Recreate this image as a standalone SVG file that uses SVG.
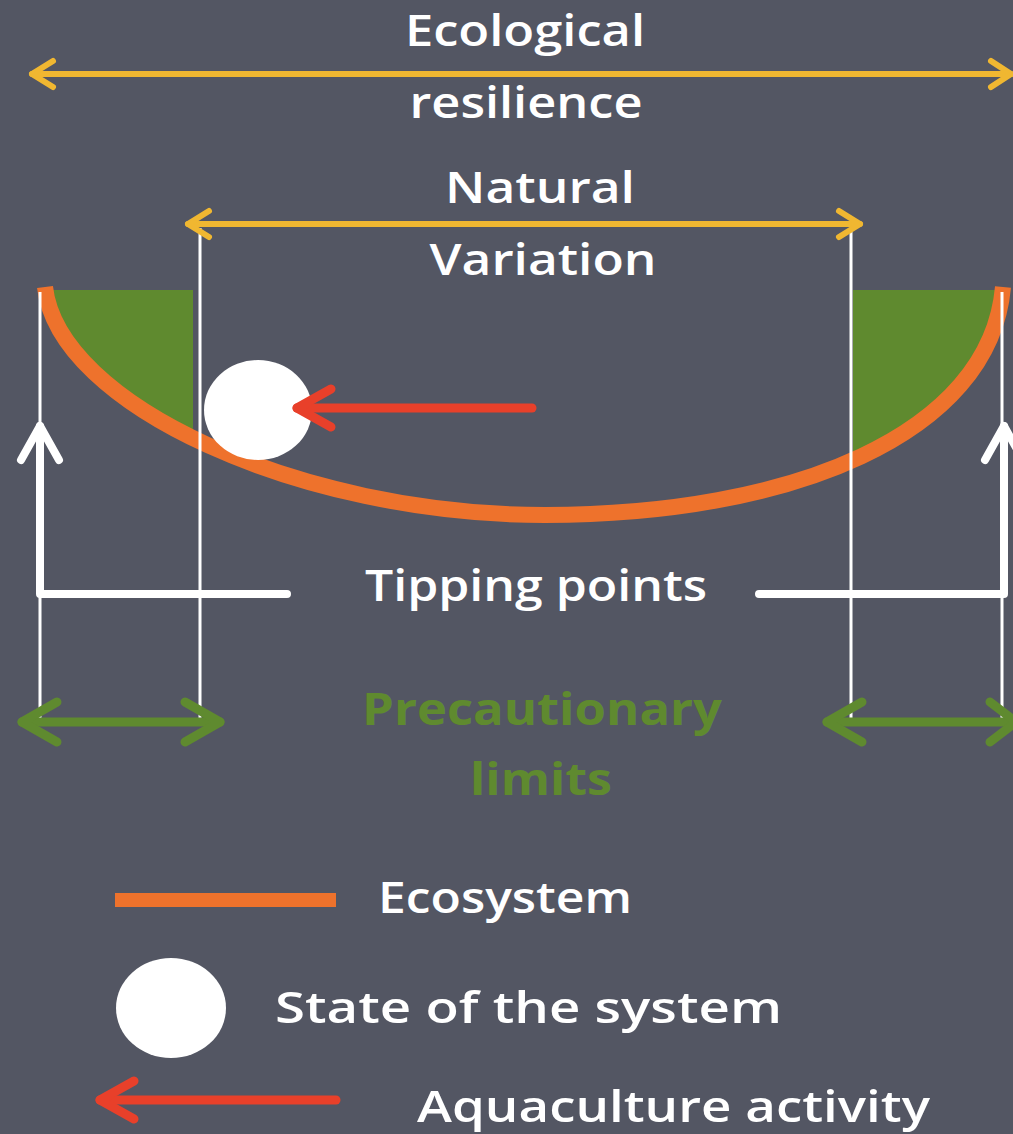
<svg xmlns="http://www.w3.org/2000/svg" width="1013" height="1134" viewBox="0 0 1013 1134">
  <defs>
    <style>
      .t { font-family: "Open Sans", "DejaVu Sans", sans-serif; font-weight: 600; font-size: 44px; fill: #ffffff; }
      .tg { fill: #5f8a2f; font-weight: 700; }
      .yel { stroke: #f0b731; stroke-width: 6; fill: none; stroke-linecap: round; stroke-linejoin: round; }
      .grn { stroke: #5f8a2f; stroke-width: 9; fill: none; stroke-linecap: round; stroke-linejoin: round; }
      .red { stroke: #e8402a; stroke-width: 9; fill: none; stroke-linecap: round; stroke-linejoin: round; }
      .wthin { stroke: #ffffff; stroke-width: 3; fill: none; }
      .wthick { stroke: #ffffff; stroke-width: 8; fill: none; stroke-linecap: round; stroke-linejoin: round; }
      .eco { stroke: #ee722c; stroke-width: 16; fill: none; }
    </style>
    <clipPath id="above">
      <path d="M 45 290 C 58 405, 300 515, 545 515 C 790 515, 990 435, 1003 290 Z"/>
    </clipPath>
  </defs>
  <rect width="1013" height="1134" fill="#535663"/>

  <g id="precaution-zones" clip-path="url(#above)">
    <rect x="50" y="288" width="143" height="200" fill="#5f8a2f"/>
    <rect x="853" y="288" width="150" height="200" fill="#5f8a2f"/>
  </g>

  <g id="ecosystem-curve">
    <path class="eco" d="M 45 287 C 58 405, 300 515, 545 515 C 790 515, 990 435, 1003 287"/>
  </g>

  <g id="connectors">
    <line class="wthin" x1="40" y1="292" x2="40" y2="722"/>
    <line class="wthin" x1="200" y1="228" x2="200" y2="725"/>
    <line class="wthin" x1="851" y1="228" x2="851" y2="725"/>
    <line class="wthin" x1="1002" y1="292" x2="1002" y2="722"/>
    <g id="resilience-arrow">
      <line class="yel" x1="32" y1="74" x2="1011" y2="74"/>
      <polyline class="yel" points="53,61 32,74 53,87"/>
      <polyline class="yel" points="991,61 1011,74 991,87"/>
    </g>
    <g id="variation-arrow">
      <line class="yel" x1="188" y1="224" x2="860" y2="224"/>
      <polyline class="yel" points="209,211 188,224 209,237"/>
      <polyline class="yel" points="839,211 860,224 839,237"/>
    </g>
    <g id="tipping-left">
      <polyline class="wthick" points="287,594 40,594 40,426"/>
      <polyline class="wthick" points="21,460 40,426 59,460"/>
    </g>
    <g id="tipping-right">
      <polyline class="wthick" points="759,594 1004,594 1004,426"/>
      <polyline class="wthick" points="985,460 1004,426 1023,460"/>
    </g>
    <g id="precaution-left">
      <line class="grn" x1="22" y1="722" x2="220" y2="722"/>
      <polyline class="grn" points="57,702 22,722 57,742"/>
      <polyline class="grn" points="185,702 220,722 185,742"/>
    </g>
    <g id="precaution-right">
      <line class="grn" x1="827" y1="722" x2="1016" y2="722"/>
      <polyline class="grn" points="862,702 827,722 862,742"/>
      <polyline class="grn" points="990,702 1016,722 990,742"/>
    </g>
  </g>

  <g id="state-ball">
    <ellipse cx="258" cy="410" rx="54" ry="50" fill="#ffffff"/>
  </g>

  <g id="pressure-arrow">
    <line class="red" x1="532" y1="408" x2="297" y2="408"/>
    <polyline class="red" points="331,389 297,408 331,427"/>
  </g>

  <g id="labels">
    <text class="t" x="525" y="46" text-anchor="middle" textLength="240" lengthAdjust="spacingAndGlyphs">Ecological</text>
    <text class="t" x="526" y="118" text-anchor="middle" textLength="233" lengthAdjust="spacingAndGlyphs">resilience</text>
    <text class="t" x="540" y="203" text-anchor="middle" textLength="190" lengthAdjust="spacingAndGlyphs">Natural</text>
    <text class="t" x="543" y="275" text-anchor="middle" textLength="227" lengthAdjust="spacingAndGlyphs">Variation</text>
    <text class="t" x="536" y="601" text-anchor="middle" textLength="342" lengthAdjust="spacingAndGlyphs">Tipping points</text>
    <text class="t tg" x="542" y="725" text-anchor="middle" textLength="360" lengthAdjust="spacingAndGlyphs">Precautionary</text>
    <text class="t tg" x="541" y="795" text-anchor="middle" textLength="142" lengthAdjust="spacingAndGlyphs">limits</text>
  </g>

  <g id="legend">
    <g id="legend-ecosystem">
      <line class="eco" x1="115" y1="900" x2="336" y2="900" style="stroke-width:14"/>
      <text class="t" x="378" y="913" textLength="254" lengthAdjust="spacingAndGlyphs">Ecosystem</text>
    </g>
    <g id="legend-state">
      <ellipse cx="171" cy="1008" rx="55" ry="50" fill="#ffffff"/>
      <text class="t" x="275" y="1023" textLength="507" lengthAdjust="spacingAndGlyphs">State of the system</text>
    </g>
    <g id="legend-activity">
      <line class="red" x1="336" y1="1100" x2="100" y2="1100"/>
      <polyline class="red" points="134,1081 100,1100 134,1119"/>
      <text class="t" x="417" y="1122" textLength="513" lengthAdjust="spacingAndGlyphs">Aquaculture activity</text>
    </g>
  </g>
</svg>
